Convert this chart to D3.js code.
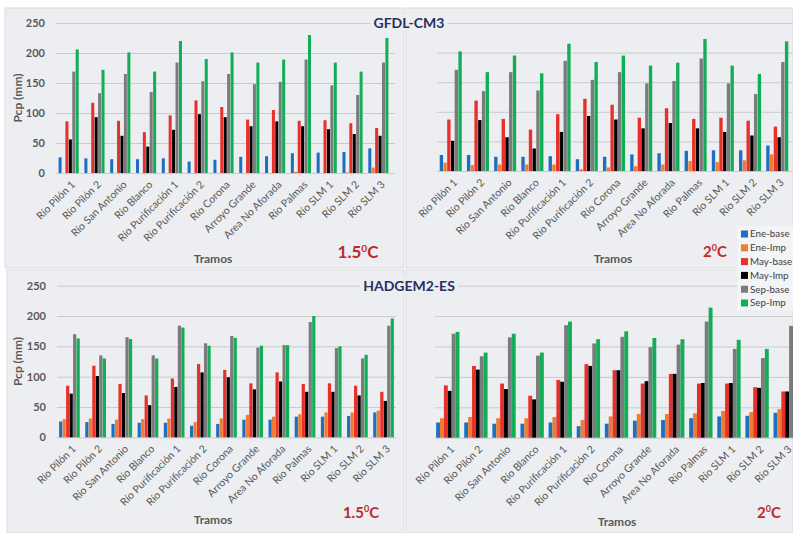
<!DOCTYPE html>
<html>
<head>
<meta charset="utf-8">
<script src="https://cdn.jsdelivr.net/npm/d3@7"></script>
<style>
  html, body { margin: 0; padding: 0; background: #ffffff; }
  svg { display: block; }
</style>
</head>
<body>
<svg id="chart" width="793" height="533"></svg>
<script>
// ---------------- DATA ----------------
const categories = ["Río Pilón 1", "Río Pilón 2", "Río San Antonio", "Río Blanco",
  "Río Purificación 1", "Río Purificación 2", "Río Corona", "Arroyo Grande",
  "Area No Aforada", "Río Palmas", "Río SLM 1", "Río SLM 2", "Río SLM 3"];
const seriesNames = ["Ene-base", "Ene-Imp", "May-base", "May-Imp", "Sep-base", "Sep-Imp"];
const yTicks = [0, 50, 100, 150, 200, 250];

// GFDL-CM3, 1.5 ºC
const gfdl15EneBase = [26, 24.5, 23, 23, 24.5, 19, 22, 27, 28, 33, 34, 35, 41];
const gfdl15EneImp  = [0, 0, 0, 0, 0, 0, 0, 0, 0, 2, 0, 1, 9];
const gfdl15MayBase = [86, 117, 87, 68, 96, 121, 110, 89, 105, 87, 88, 83, 75];
const gfdl15MayImp  = [56, 93, 62, 44, 72, 98, 93, 78, 86, 78, 73, 65, 62];
const gfdl15SepBase = [169, 133, 165, 135, 184, 153, 165, 148, 152, 189, 146, 130, 184];
const gfdl15SepImp  = [206, 172, 201, 169, 220, 190, 201, 184, 189, 230, 184, 169, 225];

// GFDL-CM3, 2 ºC
const gfdl20EneBase = [27, 27, 24, 24, 25, 20, 24, 28, 30, 34, 35, 35, 43];
const gfdl20EneImp  = [14, 10, 11, 11, 11, 3, 6, 8, 11, 17, 15, 18, 28];
const gfdl20MayBase = [87, 119, 88, 70, 96, 122, 112, 90, 106, 88, 90, 85, 75];
const gfdl20MayImp  = [51, 86, 57, 38, 66, 93, 87, 72, 81, 72, 66, 60, 57];
const gfdl20SepBase = [171, 135, 167, 136, 186, 154, 167, 148, 152, 190, 148, 130, 184];
const gfdl20SepImp  = [202, 167, 195, 165, 215, 184, 195, 178, 183, 223, 178, 164, 219];

// HADGEM2-ES, 1.5 ºC
const hadgem15EneBase = [26, 25, 22, 24, 24, 19, 22, 29, 29, 34, 34, 35, 41];
const hadgem15EneImp  = [30, 31, 29, 30, 31, 25, 31, 37, 34, 38, 41, 41, 44];
const hadgem15MayBase = [85, 118, 88, 69, 97, 121, 111, 89, 107, 88, 89, 85, 75];
const hadgem15MayImp  = [72, 101, 73, 53, 83, 107, 99, 79, 92, 75, 75, 69, 60];
const hadgem15SepBase = [170, 135, 165, 135, 184, 155, 167, 148, 152, 190, 147, 130, 184];
const hadgem15SepImp  = [163, 130, 162, 130, 181, 151, 164, 151, 152, 200, 150, 136, 196];

// HADGEM2-ES, 2 ºC
const hadgem20EneBase = [25, 25, 23, 23, 25, 19, 23, 28, 29, 32, 35, 36, 41];
const hadgem20EneImp  = [32, 34, 32, 32, 34, 29, 35, 39, 39, 40, 44, 42, 47];
const hadgem20MayBase = [86, 118, 89, 69, 95, 121, 111, 89, 105, 89, 89, 83, 76];
const hadgem20MayImp  = [77, 112, 80, 63, 92, 118, 111, 93, 105, 90, 90, 82, 76];
const hadgem20SepBase = [171, 134, 165, 135, 185, 155, 166, 149, 153, 191, 146, 131, 184];
const hadgem20SepImp  = [174, 140, 171, 140, 191, 162, 175, 164, 162, 214, 161, 146, 196];

// ---------------- STYLE ----------------
const colors = ["#1f6fc0", "#ee7d31", "#e8302a", "#000000", "#7b7b7b", "#12ae57"];
const FONT = "Lato, 'Open Sans', 'DejaVu Sans', sans-serif";
const bg = "#eceef1";

const panels = [
  { series: [gfdl15EneBase, gfdl15EneImp, gfdl15MayBase, gfdl15MayImp, gfdl15SepBase, gfdl15SepImp],
    box: [5, 8, 404, 268], xr: [56, 391], pI: 0.22, pO: 0.1, inner: 0.12,
    yr: [173, 23], grid: [56, 395], yLabels: true, tramos: [213, 263],
    temp: "1.5", tempPos: [358, 258], tempSize: 17 },
  { series: [gfdl20EneBase, gfdl20EneImp, gfdl20MayBase, gfdl20MayImp, gfdl20SepBase, gfdl20SepImp],
    box: [406, 8, 793, 268], xr: [437, 791], pI: 0.19, pO: 0.1, inner: 0.1,
    yr: [171, 23], grid: [437, 793], yLabels: false, tramos: [613, 263],
    temp: "2", tempPos: [715, 257], tempSize: 15 },
  { series: [hadgem15EneBase, hadgem15EneImp, hadgem15MayBase, hadgem15MayImp, hadgem15SepBase, hadgem15SepImp],
    box: [7, 270, 404, 533], xr: [57, 396], pI: 0.21, pO: 0.08, inner: 0.08,
    yr: [437.3, 285.7], grid: [57, 396], yLabels: true, tramos: [213, 524],
    temp: "1.5", tempPos: [361, 518], tempSize: 15 },
  { series: [hadgem20EneBase, hadgem20EneImp, hadgem20MayBase, hadgem20MayImp, hadgem20SepBase, hadgem20SepImp],
    box: [406, 270, 793, 533], xr: [435, 798], pI: 0.17, pO: 0.04, inner: 0.0,
    yr: [437.7, 285.7], grid: [435, 793], yLabels: false, tramos: [617, 526],
    temp: "2", tempPos: [769, 518], tempSize: 15 }
];

const svg = d3.select("#chart");
svg.append("rect").attr("x", 0).attr("y", 0).attr("width", 793).attr("height", 533).attr("fill", "#ffffff");

panels.forEach(p => {
  const [bx0, by0, bx1, by1] = p.box;
  svg.append("rect").attr("x", bx0).attr("y", by0).attr("width", bx1 - bx0).attr("height", by1 - by0)
    .attr("fill", bg).attr("stroke", "#d9dbde").attr("stroke-width", 1);

  const x = d3.scaleBand().domain(categories).range(p.xr).paddingInner(p.pI).paddingOuter(p.pO);
  const xs = d3.scaleBand().domain(seriesNames).range([0, x.bandwidth()]).paddingInner(p.inner);
  const y = d3.scaleLinear().domain([0, 250]).range(p.yr);

  const clip = "clip" + bx0 + "_" + by0;
  svg.append("clipPath").attr("id", clip).append("rect")
    .attr("x", bx0).attr("y", by0).attr("width", bx1 - bx0).attr("height", by1 - by0);

  const g = svg.append("g").attr("clip-path", `url(#${clip})`);

  // gridlines + y labels
  const yAxis = d3.axisLeft(y).tickValues(yTicks)
    .tickSize(-(p.grid[1] - p.grid[0])).tickPadding(11)
    .tickFormat(p.yLabels ? d3.format("d") : () => "");
  const ga = g.append("g").attr("transform", `translate(${p.grid[0]},0)`).call(yAxis);
  ga.select(".domain").remove();
  ga.selectAll(".tick line").attr("stroke", "#c9cacc").attr("stroke-width", 1);
  ga.selectAll(".tick text").attr("fill", "#595959").style("font", `bold 11px ${FONT}`);

  // bars
  const groups = g.append("g").selectAll("g").data(categories).join("g")
    .attr("transform", d => `translate(${x(d)},0)`);
  groups.selectAll("rect").data((d, i) => seriesNames.map((s, k) => ({ s, v: p.series[k][i] })))
    .join("rect")
    .attr("x", d => xs(d.s))
    .attr("width", xs.bandwidth())
    .attr("y", d => y(d.v))
    .attr("height", d => y(0) - y(d.v))
    .attr("fill", d => colors[seriesNames.indexOf(d.s)]);

  // x labels
  const xAxis = d3.axisBottom(x).tickSize(0).tickPadding(0);
  const gx = g.append("g").attr("transform", `translate(0,${y(0)})`).call(xAxis);
  gx.select(".domain").remove();
  gx.selectAll(".tick text")
    .attr("fill", "#595959")
    .style("font", `10.5px ${FONT}`)
    .attr("text-anchor", "end")
    .attr("transform", "translate(5,10) rotate(-45)")
    .attr("dy", "0.3em").attr("y", 0).attr("x", 0);

  // axis title
  svg.append("text").attr("x", p.tramos[0]).attr("y", p.tramos[1])
    .attr("text-anchor", "middle").attr("fill", "#595959")
    .style("font", `bold 12px ${FONT}`).text("Tramos");

  if (p.yLabels) {
    const cy = (p.yr[0] + p.yr[1]) / 2;
    svg.append("text").attr("transform", `translate(22,${cy}) rotate(-90)`)
      .attr("text-anchor", "middle").attr("fill", "#595959")
      .style("font", `bold 12px ${FONT}`).text("Pcp (mm)");
  }

  // temperature label
  const t = svg.append("text").attr("x", p.tempPos[0]).attr("y", p.tempPos[1])
    .attr("text-anchor", "middle").attr("fill", "#c0282d")
    .style("font", `bold ${p.tempSize}px ${FONT}`);
  t.append("tspan").text(p.temp);
  t.append("tspan").attr("dy", -p.tempSize * 0.38).style("font-size", (p.tempSize * 0.6) + "px").text("0");
  t.append("tspan").attr("dy", p.tempSize * 0.38).text("C");
});

// model titles (span both panels)
function title(txt, cx, cyBase) {
  const t = svg.append("text").attr("x", cx).attr("y", cyBase).attr("text-anchor", "middle")
    .attr("fill", "#28305e").style("font", `bold 14px ${FONT}`).text(txt);
  const bb = t.node().getBBox();
  svg.insert("rect", () => t.node()).attr("x", bb.x - 3).attr("y", bb.y).attr("width", bb.width + 6)
    .attr("height", bb.height).attr("fill", bg);
}
title("GFDL-CM3", 409, 28);
title("HADGEM2-ES", 409, 291);

// legend
const lg = svg.append("g");
lg.append("rect").attr("x", 737).attr("y", 226).attr("width", 56).attr("height", 84).attr("fill", "#f3f4f5");
seriesNames.forEach((s, i) => {
  const yy = 234 + i * 13.8;
  lg.append("rect").attr("x", 741).attr("y", yy - 3.5).attr("width", 7).attr("height", 7).attr("fill", colors[i]);
  lg.append("text").attr("x", 750).attr("y", yy).attr("dy", "0.35em").attr("fill", "#404040")
    .style("font", `9.8px ${FONT}`).text(s);
});
</script>
</body>
</html>
